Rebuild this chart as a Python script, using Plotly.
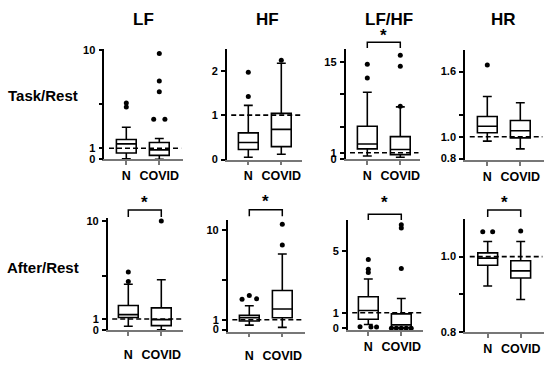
import plotly.graph_objects as go

FONT = "Liberation Sans, Arial, sans-serif"
W, H = 550, 366

# ---------------- data ----------------
categories = ["N", "COVID"]
col_titles = ["LF", "HF", "LF/HF", "HR"]
row_titles = ["Task/Rest", "After/Rest"]
ref_value = 1.0

# box statistics: [lower whisker, Q1, median, Q3, upper whisker]
lf_task_n = [0.05, 0.57, 1.40, 1.80, 2.92]
lf_task_covid = [0.0, 0.35, 0.85, 1.53, 1.89]
lf_task_n_out = [4.78, 5.13]
lf_task_covid_out = [3.66, 3.66, 6.17, 7.14, 9.65]

hf_task_n = [0.05, 0.225, 0.385, 0.60, 1.22]
hf_task_covid = [0.12, 0.29, 0.68, 1.04, 2.17]
hf_task_n_out = [1.42, 1.97]
hf_task_covid_out = [2.24]

lfhf_task_n = [0.5, 1.59, 2.33, 5.07, 10.3]
lfhf_task_covid = [0.3, 0.7, 1.49, 3.48, 8.05]
lfhf_task_n_out = [12.5, 14.6]
lfhf_task_covid_out = [8.15, 14.3, 16.0]

hr_task_n = [0.96, 1.037, 1.097, 1.186, 1.37]
hr_task_covid = [0.889, 0.99, 1.055, 1.15, 1.313]
hr_task_n_out = [1.66]
hr_task_covid_out = []

lf_after_n = [0.34, 1.14, 1.41, 2.24, 4.2]
lf_after_covid = [0.02, 0.40, 0.95, 2.03, 4.61]
lf_after_n_out = [4.44, 5.33]
lf_after_covid_out = [10.0]

hf_after_n = [0.45, 0.87, 1.2, 1.43, 2.41]
hf_after_covid = [0.22, 1.2, 2.08, 3.94, 7.63]
hf_after_n_out = [3.05, 3.45, 3.1]
hf_after_covid_out = [8.54, 10.63]

lfhf_after_n = [0.24, 0.58, 1.15, 2.04, 3.19]
lfhf_after_covid = [0.0, 0.05, 0.22, 0.93, 1.92]
lfhf_after_n_out = [0.1, 0.08, 0.08, 3.61, 3.82, 4.45]
lfhf_after_covid_out = [0.0, 0.0, 0.0, 0.0, 0.0, 3.86, 6.48, 6.69]

hr_after_n = [0.922, 0.977, 0.996, 1.010, 1.040]
hr_after_covid = [0.886, 0.943, 0.962, 0.989, 1.040]
hr_after_n_out = [1.066, 1.066]
hr_after_covid_out = [1.068]

# significance brackets: [bracket height, leg bottom, star height]
sig_lfhf_task = [17.98, 17.1, 19.0]
sig_lf_after = [11.02, 10.37, 11.7]
sig_hf_after = [12.1, 11.44, 12.95]
sig_lfhf_after = [7.38, 7.0, 8.15]
sig_hr_after = [1.124, 1.105, 1.143]

# y-axis ticks
ticks_lf = [0, 1, 5, 10]
ticks_lf_text = ["0", "1", "", "10"]
ticks_hf_task = [0, 1, 2]
ticks_hf_task_text = ["0", "1", "2"]
ticks_lfhf_task = [0, 1, 5, 10, 15]
ticks_lfhf_task_text = ["0", "1", "", "", "15"]
ticks_hr_task = [0.8, 1.0, 1.2, 1.6]
ticks_hr_task_text = ["0.8", "1.0", "", "1.6"]
ticks_lfhf_after = [0, 1, 5]
ticks_lfhf_after_text = ["0", "1", "5"]
ticks_hr_after = [0.8, 0.9, 1.0]
ticks_hr_after_text = ["0.8", "", "1.0"]

# ---------------- styling / layout ----------------
# horizontal jitter for overlapping outlier dots
jit = {
    "lf_task_covid": [-0.17, 0.17, 0, 0, 0],
    "hf_after_n": [-0.22, 0.0, 0.22],
    "lfhf_after_n": [-0.25, 0.08, 0.25, 0, 0, 0],
    "lfhf_after_covid": [-0.3, -0.15, 0.0, 0.15, 0.3, 0, 0, 0],
    "hr_after_n": [-0.15, 0.15],
}

SP = 33.0  # px per category step
panels = [
    dict(n=lf_task_n, c=lf_task_covid, no=lf_task_n_out, co=lf_task_covid_out, cj=jit["lf_task_covid"],
         tv=ticks_lf, tt=ticks_lf_text, yr=[0, 10.1], px=(104.3, 182.7), py=(45, 159), nx=126.3,
         sig=None, stand=0),
    dict(n=hf_task_n, c=hf_task_covid, no=hf_task_n_out, co=hf_task_covid_out,
         tv=ticks_hf_task, tt=ticks_hf_task_text, yr=[0, 2.5], px=(226.7, 302), py=(45, 159.3), nx=248.3,
         sig=None, stand=0),
    dict(n=lfhf_task_n, c=lfhf_task_covid, no=lfhf_task_n_out, co=lfhf_task_covid_out,
         tv=ticks_lfhf_task, tt=ticks_lfhf_task_text, yr=[0, 17], px=(345.5, 420), py=(45, 159), nx=367.3,
         sig=sig_lfhf_task, stand=0),
    dict(n=hr_task_n, c=hr_task_covid, no=hr_task_n_out, co=hr_task_covid_out,
         tv=ticks_hr_task, tt=ticks_hr_task_text, yr=[0.785, 1.795], px=(465, 544), py=(46.7, 160), nx=487.3,
         sig=None, stand=0),
    dict(n=lf_after_n, c=lf_after_covid, no=lf_after_n_out, co=lf_after_covid_out,
         tv=ticks_lf, tt=ticks_lf_text, yr=[0, 10.25], px=(107.7, 183), py=(220, 335), nx=128.3,
         sig=sig_lf_after, stand=8),
    dict(n=hf_after_n, c=hf_after_covid, no=hf_after_n_out, co=hf_after_covid_out, nj=jit["hf_after_n"],
         tv=ticks_lf, tt=ticks_lf_text, yr=[-0.2, 11.05], px=(227.7, 305), py=(221.7, 336.7), nx=249.3,
         sig=sig_hf_after, stand=8),
    dict(n=lfhf_after_n, c=lfhf_after_covid, no=lfhf_after_n_out, co=lfhf_after_covid_out,
         nj=jit["lfhf_after_n"], cj=jit["lfhf_after_covid"],
         tv=ticks_lfhf_after, tt=ticks_lfhf_after_text, yr=[-0.11, 7.0], px=(347.7, 423), py=(221.7, 335), nx=368.3,
         sig=sig_lfhf_after, stand=0),
    dict(n=hr_after_n, c=hr_after_covid, no=hr_after_n_out, co=hr_after_covid_out, nj=jit["hr_after_n"],
         tv=ticks_hr_after, tt=ticks_hr_after_text, yr=[0.8, 1.099], px=(465, 544), py=(221, 337), nx=487.7,
         sig=sig_hr_after, stand=0),
]

fig = go.Figure()
shapes, annotations = [], []
layout_axes = {}

for i, p in enumerate(panels, start=1):
    xa = "x" if i == 1 else f"x{i}"
    ya = "y" if i == 1 else f"y{i}"
    xr = [(p["px"][0] - p["nx"]) / SP, (p["px"][1] - p["nx"]) / SP]
    yr = p["yr"]
    for k, (stats, outs, jkey) in enumerate([(p["n"], p["no"], "nj"), (p["c"], p["co"], "cj")]):
        fig.add_trace(go.Box(
            x=[k], lowerfence=[stats[0]], q1=[stats[1]], median=[stats[2]],
            q3=[stats[3]], upperfence=[stats[4]],
            xaxis=xa, yaxis=ya, width=0.6, whiskerwidth=0.45,
            fillcolor="white", line=dict(color="black", width=1.6),
            boxpoints=False, showlegend=False, hoverinfo="skip",
        ))
        if outs:
            jj = p.get(jkey, [0] * len(outs))
            fig.add_trace(go.Scatter(
                x=[k + j for j in jj], y=outs, mode="markers", xaxis=xa, yaxis=ya,
                marker=dict(color="black", size=5), showlegend=False, hoverinfo="skip",
                cliponaxis=False,
            ))
    # dashed reference line
    shapes.append(dict(type="line", xref=f"{xa} domain", yref=ya, x0=0.06, x1=0.98,
                       y0=ref_value, y1=ref_value, layer="above",
                       line=dict(color="black", width=1.6, dash="5px,3px")))
    # significance bracket
    if p["sig"]:
        top, leg, star = p["sig"]
        fx = [(v - xr[0]) / (xr[1] - xr[0]) for v in (0, 1)]
        fy = lambda v: (v - yr[0]) / (yr[1] - yr[0])
        shapes.append(dict(type="path", xref=f"{xa} domain", yref=f"{ya} domain",
                           path=f"M{fx[0]},{fy(leg)} L{fx[0]},{fy(top)} L{fx[1]},{fy(top)} L{fx[1]},{fy(leg)}",
                           line=dict(color="black", width=1.5)))
        annotations.append(dict(text="*", xref=f"{xa} domain", yref=f"{ya} domain",
                                x=(fx[0] + fx[1]) / 2, y=fy(star), showarrow=False,
                                xanchor="center", yanchor="middle",
                                font=dict(family=FONT, size=17, color="black", weight="bold")))
    xkey = "xaxis" if i == 1 else f"xaxis{i}"
    ykey = "yaxis" if i == 1 else f"yaxis{i}"
    layout_axes[xkey] = dict(
        domain=[p["px"][0] / W, p["px"][1] / W], anchor=ya, range=xr,
        tickvals=[0, 1], ticktext=categories, ticks="outside", ticklen=4, tickwidth=1.5,
        tickcolor="#777", showline=True, linecolor="#777", linewidth=1.5,
        showgrid=False, zeroline=False, ticklabelstandoff=p["stand"],
        tickfont=dict(family=FONT, size=12.5, color="black", weight="bold"),
    )
    layout_axes[ykey] = dict(
        domain=[(H - p["py"][1]) / H, (H - p["py"][0]) / H], anchor=xa, range=yr,
        tickvals=p["tv"], ticktext=p["tt"], ticks="outside", ticklen=4, tickwidth=1.5,
        tickcolor="black", showline=True, linecolor="black", linewidth=1.5,
        showgrid=False, zeroline=False, ticklabelstandoff=1,
        tickfont=dict(family=FONT, size=11, color="black", weight="bold"),
    )

# column and row titles
col_centers = [143, 267, 389, 503]
for t, cx in zip(col_titles, col_centers):
    annotations.append(dict(text=t, xref="paper", yref="paper", x=cx / W, y=1 - 15 / H,
                            showarrow=False, xanchor="center", yanchor="middle",
                            font=dict(family=FONT, size=17, color="black", weight="bold")))
for t, cy in zip(row_titles, [93, 271]):
    annotations.append(dict(text=t, xref="paper", yref="paper", x=43 / W, y=1 - cy / H,
                            showarrow=False, xanchor="center", yanchor="middle",
                            font=dict(family=FONT, size=15, color="black", weight="bold")))

fig.update_layout(
    width=W, height=H, autosize=False,
    margin=dict(l=0, r=0, t=0, b=0),
    paper_bgcolor="white", plot_bgcolor="white",
    shapes=shapes, annotations=annotations,
    **layout_axes,
)

fig.write_html("out.html", config={"displayModeBar": False},
               post_script="document.body.style.margin='0px';document.body.style.padding='0px';")
